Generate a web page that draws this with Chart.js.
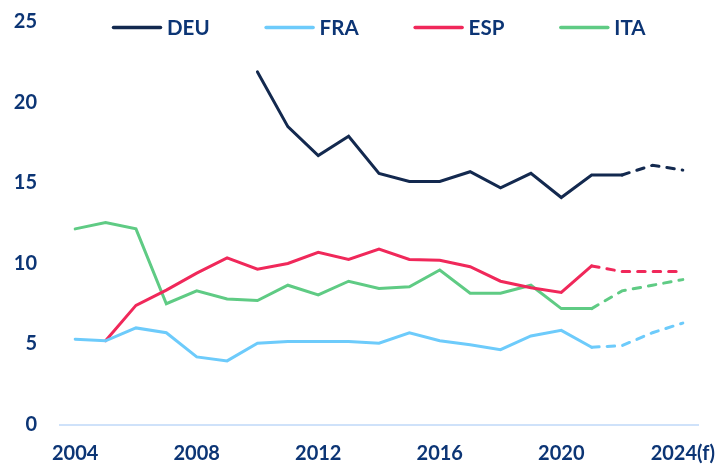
<!DOCTYPE html>
<html>
<head>
<meta charset="utf-8">
<script src="https://cdn.jsdelivr.net/npm/chart.js@4/dist/chart.umd.min.js"></script>
<style>
  html, body { margin: 0; padding: 0; background: #ffffff; }
  #wrap { width: 717px; height: 466px; }
</style>
</head>
<body>
<div id="wrap"><canvas id="c" width="717" height="466"></canvas></div>
<script>
// ---- Data ----
const years = ['2004','2005','2006','2007','2008','2009','2010','2011','2012','2013',
               '2014','2015','2016','2017','2018','2019','2020','2021','2022','2023','2024(f)'];
const tickYears = ['2004','2008','2012','2016','2020','2024(f)'];
const seriesNames = ['DEU','FRA','ESP','ITA'];
const deu = [null,null,null,null,null,null,21.9,18.5,16.7,17.9,15.6,15.1,15.1,15.7,14.7,15.6,14.1,15.5,15.5,16.1,15.8];
const fra = [5.3,5.2,6.0,5.7,4.2,3.95,5.05,5.15,5.15,5.15,5.05,5.7,5.2,4.95,4.65,5.5,5.85,4.8,4.9,5.7,6.3];
const esp = [null,5.2,7.4,8.35,9.4,10.35,9.65,10.0,10.7,10.25,10.9,10.25,10.2,9.8,8.9,8.5,8.2,9.85,9.5,9.5,9.5];
const ita = [12.15,12.55,12.15,7.5,8.3,7.8,7.7,8.65,8.05,8.9,8.45,8.55,9.6,8.15,8.15,8.65,7.2,7.2,8.3,8.65,9.0];
// first year of the dashed (forecast) part per series
const forecastFrom = ['2022','2021','2021','2021'];
const yTicks = [0,5,10,15,20,25];

const colors = ['#13294f','#6dcbfb','#f0285a','#5fcb84'];
const textColor = '#0c3575';
const FONT = 'Lato, "Open Sans", sans-serif';

function makeDataset(i, values) {
  const start = years.indexOf(forecastFrom[i]);
  return {
    label: seriesNames[i],
    data: values,
    borderColor: colors[i],
    backgroundColor: colors[i],
    borderWidth: 3,
    borderCapStyle: 'round',
    borderJoinStyle: 'miter',
    pointRadius: 0,
    pointHoverRadius: 0,
    tension: 0,
    spanGaps: false,
    fill: false,
    segment: {
      borderDash: ctx => (ctx.p0DataIndex >= start ? [7.5, 8] : undefined)
    }
  };
}

const legendPlugin = {
  id: 'topLegend',
  afterDraw(chart) {
    const ctx = chart.ctx;
    const area = chart.chartArea;
    const lineLen = 50, gap = 5, pad = 55;
    ctx.save();
    ctx.font = 'bold 20.5px ' + FONT;
    let x = area.left + 52;
    const y = 27.5;
    chart.data.datasets.forEach(ds => {
      const w = ctx.measureText(ds.label).width;
      ctx.strokeStyle = ds.borderColor;
      ctx.lineWidth = 3.5;
      ctx.lineCap = 'round';
      ctx.beginPath();
      ctx.moveTo(x + 1.5, y);
      ctx.lineTo(x + lineLen - 1.5, y);
      ctx.stroke();
      ctx.fillStyle = textColor;
      ctx.textAlign = 'left';
      ctx.textBaseline = 'middle';
      ctx.fillText(ds.label, x + lineLen + gap, y + 1);
      x += lineLen + gap + w + pad;
    });
    ctx.restore();
  }
};

new Chart(document.getElementById('c'), {
  type: 'line',
  data: {
    labels: years,
    datasets: [makeDataset(0, deu), makeDataset(1, fra), makeDataset(2, esp), makeDataset(3, ita)]
  },
  options: {
    responsive: false,
    animation: false,
    events: [],
    layout: { padding: { left: 14, right: 19, top: 22, bottom: 0 } },
    plugins: {
      legend: { display: false },
      tooltip: { enabled: false },
      title: { display: false }
    },
    scales: {
      x: {
        type: 'category',
        offset: true,
        grid: { display: false, drawTicks: false },
        border: { display: true, color: '#cfe2fa', width: 2 },
        afterFit: axis => { axis.height = 41.5; axis.paddingLeft = 0; axis.paddingRight = 0; },
        ticks: {
          autoSkip: false,
          maxRotation: 0,
          minRotation: 0,
          padding: 17.5,
          color: textColor,
          font: { family: FONT, size: 20, weight: 'bold' },
          callback: function(value) {
            const lab = this.getLabelForValue(value);
            return tickYears.includes(lab) ? lab : '';
          }
        }
      },
      y: {
        min: 0,
        max: 25,
        grid: { display: false, drawTicks: false },
        border: { display: false },
        afterBuildTicks: axis => { axis.ticks = yTicks.map(v => ({ value: v })); },
        afterFit: axis => { axis.width = 46; axis.paddingTop = 0; axis.paddingBottom = 0; },
        ticks: {
          padding: 23,
          color: textColor,
          font: { family: FONT, size: 20, weight: 'bold' }
        }
      }
    }
  },
  plugins: [legendPlugin]
});
</script>
</body>
</html>
